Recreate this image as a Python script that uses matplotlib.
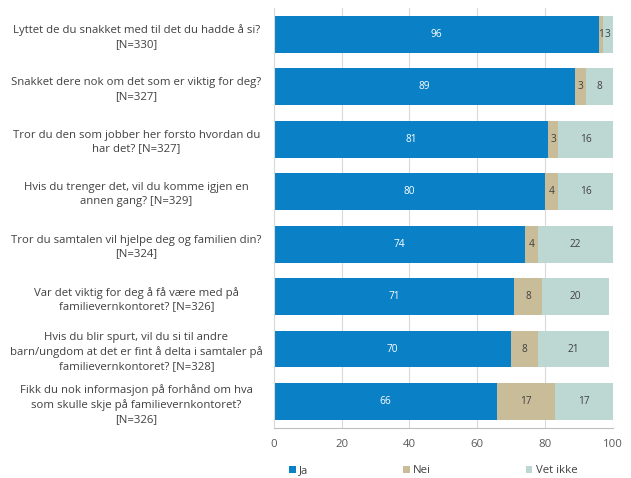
import numpy as np
import matplotlib.pyplot as plt

questions = [
    "Lyttet de du snakket med til det du hadde å si?\n[N=330]",
    "Snakket dere nok om det som er viktig for deg?\n[N=327]",
    "Tror du den som jobber her forsto hvordan du\nhar det? [N=327]",
    "Hvis du trenger det, vil du komme igjen en\nannen gang? [N=329]",
    "Tror du samtalen vil hjelpe deg og familien din?\n[N=324]",
    "Var det viktig for deg å få være med på\nfamilievernkontoret? [N=326]",
    "Hvis du blir spurt, vil du si til andre\nbarn/ungdom at det er fint å delta i samtaler på\nfamilievernkontoret? [N=328]",
    "Fikk du nok informasjon på forhånd om hva\nsom skulle skje på familievernkontoret?\n[N=326]",
]
ja = [96, 89, 81, 80, 74, 71, 70, 66]
nei = [1, 3, 3, 4, 4, 8, 8, 17]
vet_ikke = [3, 8, 16, 16, 22, 20, 21, 17]

series = [("Ja", ja, "#0A80C6", "white"),
          ("Nei", nei, "#C9BC98", "#404040"),
          ("Vet ikke", vet_ikke, "#BDD8D2", "#404040")]

plt.rcParams['font.family'] = ['Open Sans', 'DejaVu Sans']
fig = plt.figure(figsize=(6.31, 4.78), dpi=100)
ax = fig.add_axes([0.434, 0.105, 0.537, 0.878])

y = np.arange(len(questions))
left = np.zeros(len(questions))
for name, vals, col, tcol in series:
    vals = np.array(vals, dtype=float)
    bars = ax.barh(y, vals, left=left, height=0.7, color=col, label=name, zorder=2)
    for b, v, l in zip(bars, vals, left):
        ax.text(l + v / 2, b.get_y() + b.get_height() / 2, f"{int(v)}",
                ha="center", va="center", fontsize=7.3, color=tcol, zorder=3)
    left += vals

ax.set_ylim(len(questions) - 0.5, -0.5)
ax.set_xlim(0, 100)
ax.set_xticks([0, 20, 40, 60, 80, 100])
ax.set_yticks(y)
ax.set_yticklabels(questions, fontsize=8.2, color="#404040", ha="center",
                   linespacing=1.35)
ax.tick_params(axis="y", length=0, pad=99)
ax.tick_params(axis="x", length=0, labelsize=8.2, colors="#595959", pad=8)
ax.grid(axis="x", color="#D9D9D9", linewidth=0.8, zorder=0)
for s in ["top", "right"]:
    ax.spines[s].set_visible(False)
ax.spines["left"].set_color("#D9D9D9")
ax.spines["bottom"].set_color("#BFBFBF")

ax.legend(loc="upper center", bbox_to_anchor=(0.47, -0.065), ncol=3, frameon=False,
          fontsize=8.2, handlelength=0.6, handleheight=0.6, columnspacing=8.3,
          handletextpad=0.3, labelcolor="#404040")

fig.savefig("out.png", dpi=100)
